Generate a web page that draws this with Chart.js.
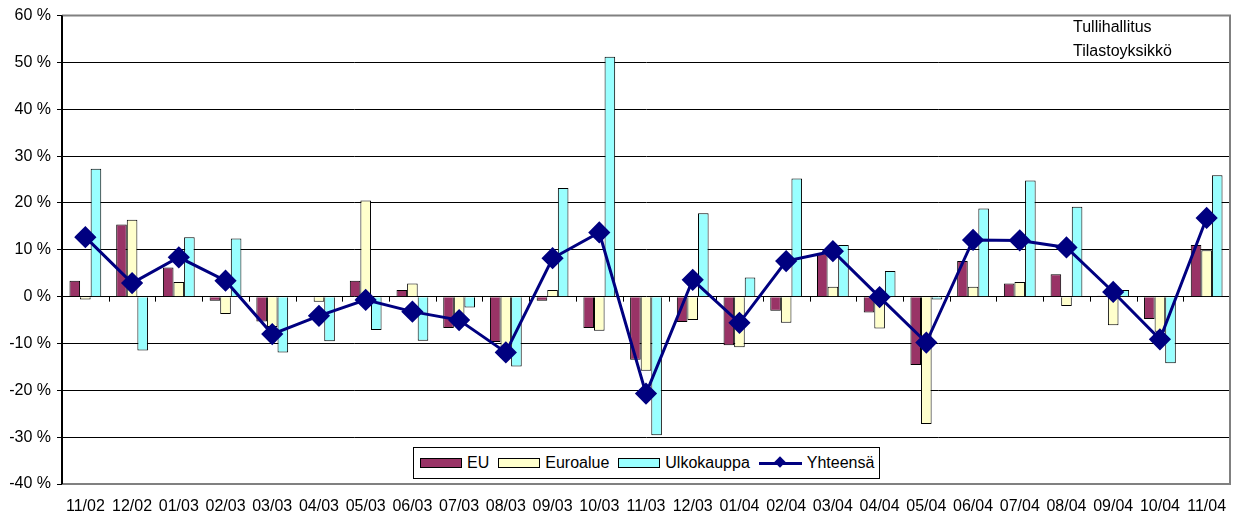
<!DOCTYPE html>
<html>
<head>
<meta charset="utf-8">
<script src="https://cdn.jsdelivr.net/npm/chart.js@4.4.1/dist/chart.umd.min.js"></script>
<style>
  body { margin: 0; background: #fff; font-family: "Liberation Sans", Arial, sans-serif; }
  #wrap { position: relative; width: 1242px; height: 520px; }
  .note { position: absolute; left: 1073px; font-size: 16px; color: #000; }
  #legend {
    position: absolute; left: 413px; top: 447px; width: 459px; height: 30px;
    border: 1px solid #000; background: #fff;
    display: flex; align-items: center; font-size: 16px; padding-left: 6px; box-sizing: content-box;
  }
  .sw { display: inline-block; width: 40px; height: 8px; border: 1px solid #000; margin-right: 5px; }
  .item { display: flex; align-items: center; margin-right: 9px; }
  .ln { position: relative; display: inline-block; width: 43px; height: 3px; background: #000080; margin-right: 5px; }
  .ln::after { content: ""; position: absolute; left: 17px; top: -4px; width: 8px; height: 8px; background: #000080; transform: rotate(45deg); }
</style>
</head>
<body>
<div id="wrap">
  <canvas id="c" width="1242" height="520"></canvas>
  <div class="note" style="top:18px">Tullihallitus</div>
  <div class="note" style="top:42px">Tilastoyksikkö</div>
  <div id="legend">
    <span class="item"><span class="sw" style="background:#993366"></span>EU</span>
    <span class="item"><span class="sw" style="background:#FFFFCC"></span>Euroalue</span>
    <span class="item"><span class="sw" style="background:#99FFFF"></span>Ulkokauppa</span>
    <span class="item"><span class="ln"></span>Yhteensä</span>
  </div>
</div>
<script>
// kuukaudet ja muutos-% (luettu kuvasta)
const months = ["11/02", "12/02", "01/03", "02/03", "03/03", "04/03", "05/03", "06/03", "07/03", "08/03",
  "09/03", "10/03", "11/03", "12/03", "01/04", "02/04", "03/04", "04/04", "05/04", "06/04",
  "07/04", "08/04", "09/04", "10/04", "11/04"];

const eu = [3.4, 15.4, 6.2, -0.9, -5.3, 0, 3.4, 1.4, -6.7, -9.7,
  -0.9, -6.7, -13.5, -5.4, -10.4, -3.0, 9.2, -3.4, -14.6, 7.6,
  2.8, 4.8, 0.2, -4.8, 11.0];
const euroalue = [-0.6, 16.4, 3.1, -3.7, -6.5, -1.1, 20.5, 2.8, -4.8, -11.0,
  1.4, -7.3, -15.8, -5.0, -10.8, -5.6, 2.1, -6.8, -27.2, 2.1,
  3.1, -2.0, -6.1, -7.5, 9.9];
const ulkokauppa = [27.3, -11.5, 12.7, 12.4, -11.9, -9.5, -7.1, -9.4, -2.3, -14.9,
  23.2, 51.2, -29.6, 17.8, 4.1, 25.2, 11.0, 5.5, -0.6, 18.8,
  24.8, 19.2, 1.4, -14.2, 25.9];
const yhteensa = [12.7, 2.9, 8.4, 3.4, -8.0, -4.1, -0.7, -3.2, -5.0, -11.9,
  8.2, 13.7, -20.7, 3.6, -5.6, 7.6, 9.7, -0.1, -9.8, 12.1,
  12.0, 10.5, 1.0, -9.1, 16.8];

const yTicks = [-40, -30, -20, -10, 0, 10, 20, 30, 40, 50, 60];

// frame + zero line tick marks
const framePlugin = {
  id: "frame",
  beforeDatasetsDraw(chart) {
    const { ctx, chartArea: a, scales } = chart;
    const y0 = scales.y.getPixelForValue(0);
    ctx.save();
    ctx.strokeStyle = "#000";
    ctx.lineWidth = 1;
    ctx.beginPath();
    const n = months.length;
    for (let i = 0; i <= n; i++) {
      const x = a.left + (a.right - a.left) * i / n;
      ctx.moveTo(Math.round(x) + 0.5, y0);
      ctx.lineTo(Math.round(x) + 0.5, y0 + 5);
    }
    ctx.stroke();
    ctx.restore();
  },
  afterDraw(chart) {
    const { ctx, chartArea: a } = chart;
    ctx.save();
    ctx.strokeStyle = "#808080";
    ctx.lineWidth = 2;
    ctx.beginPath();
    ctx.moveTo(a.left, a.top);
    ctx.lineTo(a.right, a.top);
    ctx.lineTo(a.right, a.bottom);
    ctx.lineTo(a.left, a.bottom);
    ctx.stroke();
    ctx.strokeStyle = "#000";
    ctx.beginPath();
    ctx.moveTo(a.left, a.top);
    ctx.lineTo(a.left, a.bottom);
    ctx.stroke();
    ctx.restore();
  }
};

const ctx = document.getElementById("c").getContext("2d");
new Chart(ctx, {
  data: {
    labels: months,
    datasets: [
      {
        type: "line",
        label: "Yhteensä",
        data: yhteensa,
        borderColor: "#000080",
        backgroundColor: "#000080",
        borderWidth: 3,
        pointStyle: "rectRot",
        pointRadius: 9,
        pointHoverRadius: 9,
        tension: 0,
        order: 0
      },
      {
        type: "bar",
        label: "EU",
        data: eu,
        backgroundColor: "#993366",
        borderColor: "#000",
        borderWidth: 1,
        order: 1
      },
      {
        type: "bar",
        label: "Euroalue",
        data: euroalue,
        backgroundColor: "#FFFFCC",
        borderColor: "#000",
        borderWidth: 1,
        order: 1
      },
      {
        type: "bar",
        label: "Ulkokauppa",
        data: ulkokauppa,
        backgroundColor: "#99FFFF",
        borderColor: "#000",
        borderWidth: 1,
        order: 1
      }
    ]
  },
  options: {
    responsive: false,
    animation: false,
    devicePixelRatio: 1,
    layout: { padding: { top: 15, right: 3, left: 0, bottom: 0 } },
    datasets: { bar: { categoryPercentage: 0.68, barPercentage: 1 } },
    plugins: { legend: { display: false }, tooltip: { enabled: false } },
    scales: {
      x: {
        grid: { display: false },
        border: { display: false },
        ticks: {
          color: "#000",
          font: { family: "Liberation Sans", size: 16 },
          maxRotation: 0,
          autoSkip: false,
          padding: 5
        },
        afterFit(scale) { scale.height = 36; }
      },
      y: {
        min: -40,
        max: 60,
        afterBuildTicks(scale) { scale.ticks = yTicks.map(v => ({ value: v })); },
        grid: {
          color: c => (c.tick && (c.tick.value === 60 || c.tick.value === -40)) ? "#808080" : "#000",
          lineWidth: 1,
          tickLength: 5,
          tickColor: "#000"
        },
        border: { color: "#000", width: 2 },
        ticks: {
          color: "#000",
          font: { family: "Liberation Sans", size: 16 },
          padding: 6,
          callback: v => v + " %"
        },
        afterFit(scale) { scale.width = 62; }
      }
    }
  },
  plugins: [framePlugin]
});
</script>
</body>
</html>
